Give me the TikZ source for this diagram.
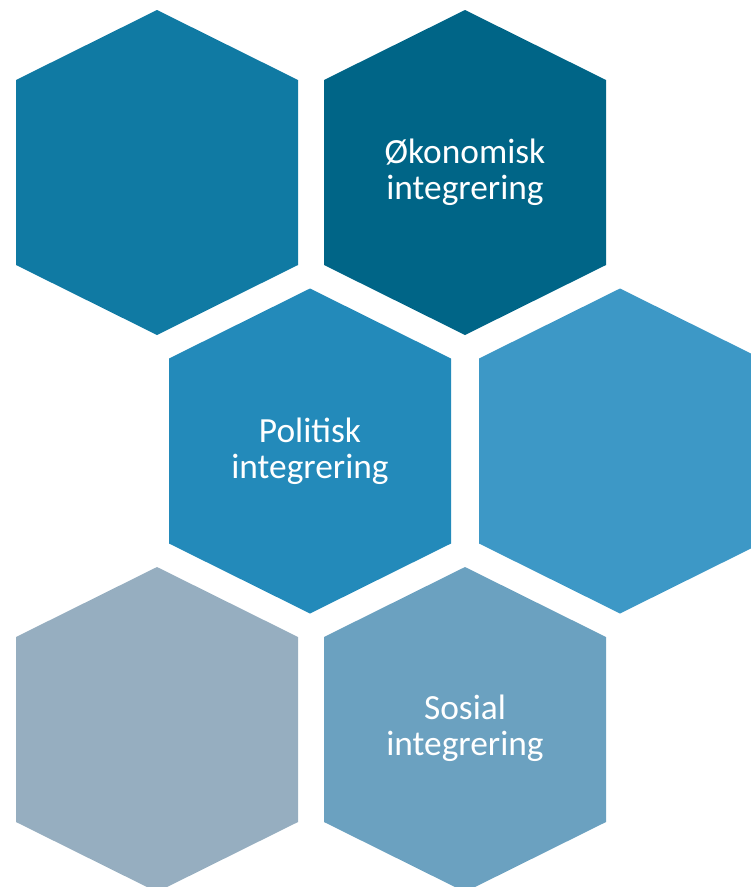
\documentclass[tikz,border=0pt]{standalone}
\usepackage{fontspec}
\setmainfont{Carlito}
\definecolor{hA}{HTML}{107AA3}
\definecolor{hB}{HTML}{006587}
\definecolor{hC}{HTML}{238ABA}
\definecolor{hD}{HTML}{3D98C6}
\definecolor{hE}{HTML}{96AEC0}
\definecolor{hF}{HTML}{6BA1C0}
\tikzset{
  hexa/.pic={\fill (0,-162.5) -- (141,-92.5) -- (141,92.5) -- (0,162.5) -- (-141,92.5) -- (-141,-92.5) -- cycle;},
  lbl/.style={text=white, align=center, font=\fontsize{35.5}{36}\selectfont, inner sep=0pt}
}
\begin{document}
\begin{tikzpicture}[x=1bp,y=-1bp]
\useasboundingbox (0,0) rectangle (751,887);
\clip (0,0) rectangle (751,887);
\pic[fill=hA] (h1) at (157,172.5) {hexa};
\pic[fill=hB] (h2) at (465,172.5) {hexa};
\pic[fill=hC] (h3) at (310,451) {hexa};
\pic[fill=hD] (h4) at (620,451) {hexa};
\pic[fill=hE] (h5) at (157,729.5) {hexa};
\pic[fill=hF] (h6) at (465,729.5) {hexa};
\node[lbl] (okon) at (465,172) {Økonomisk\\integrering};
\node[lbl] (polit) at (310,451) {Politisk\\integrering};
\node[lbl] (sosial) at (465,728) {Sosial\\integrering};
\end{tikzpicture}
\end{document}
